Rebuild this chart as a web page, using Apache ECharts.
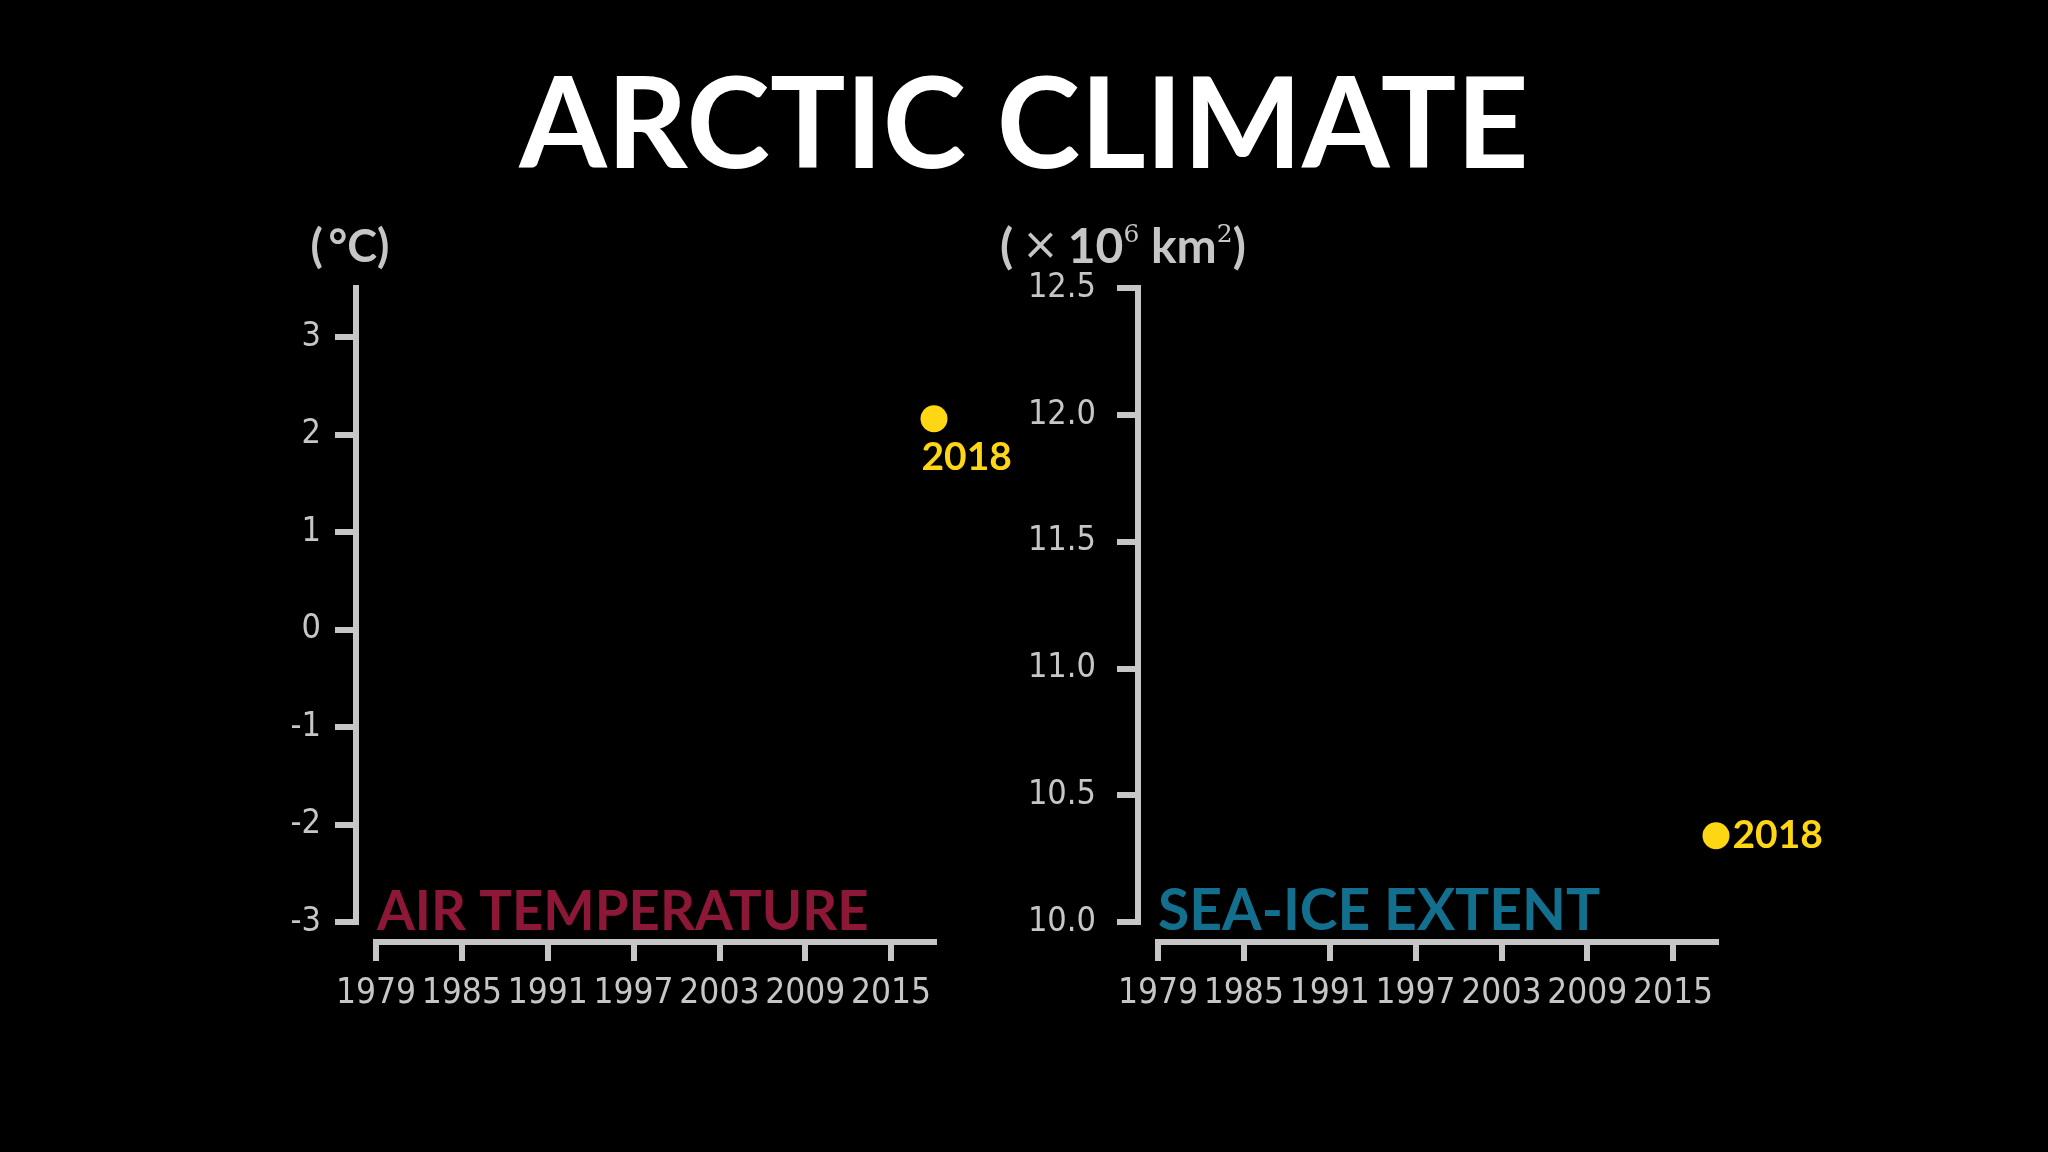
<!DOCTYPE html>
<html>
<head>
<meta charset="utf-8">
<script src="https://cdn.jsdelivr.net/npm/echarts@6/dist/echarts.min.js"></script>
<style>
html,body{margin:0;padding:0;background:#000;}
#chart{width:2048px;height:1152px;}
</style>
</head>
<body>
<div id="chart"></div>
<script>
// ---- data ----
const pointYears = [2018];
const airTemp = [2.16];          // °C anomaly
const seaIce = [10.34];          // x10^6 km^2
const yearTicks = [1979, 1985, 1991, 1997, 2003, 2009, 2015];
const tempTicks = [-3, -2, -1, 0, 1, 2, 3];
const iceTicks = [10.0, 10.5, 11.0, 11.5, 12.0, 12.5];
const yearRange = [1979, 2018];
const tempRange = [-3, 3.5];
const iceRange = [10, 12.5];

const GRAY = '#c6c6c6';
const YELLOW = '#ffd614';
const LABEL_FONT = '"Liberation Sans Narrow", "DejaVu Sans Condensed", Lato, sans-serif';
const BOLD_FONT = 'Lato, "Open Sans", sans-serif';

function xAxisCfg(gridIndex) {
  return {
    type: 'value', gridIndex: gridIndex,
    min: yearRange[0], max: yearRange[1],
    offset: 20,
    splitLine: {show: false},
    axisLine: {show: true, onZero: false, lineStyle: {color: GRAY, width: 6, cap: 'square'}},
    axisTick: {show: true, length: 19, customValues: yearTicks, lineStyle: {color: GRAY, width: 6}},
    axisLabel: {show: true, customValues: yearTicks, margin: 34, color: GRAY,
      fontFamily: LABEL_FONT, fontSize: 35, formatter: v => String(v)}
  };
}

function yAxisCfg(gridIndex, range, ticks, fmt, name, nameStyle, margin, nameGap) {
  return {
    type: 'value', gridIndex: gridIndex,
    min: range[0], max: range[1],
    offset: 20,
    splitLine: {show: false},
    axisLine: {show: true, onZero: false, lineStyle: {color: GRAY, width: 6, cap: 'square'}},
    axisTick: {show: true, length: 21, customValues: ticks, lineStyle: {color: GRAY, width: 6}},
    axisLabel: {show: true, customValues: ticks, margin: margin, color: GRAY,
      fontFamily: LABEL_FONT, fontSize: 34, padding: [6, 0, 0, 0], formatter: fmt},
    name: name,
    nameLocation: 'end',
    nameGap: nameGap,
    nameTextStyle: nameStyle
  };
}

const chart = echarts.init(document.getElementById('chart'), null, {renderer: 'canvas'});

chart.setOption({
  backgroundColor: '#000',
  animation: false,
  title: [
    {text: 'ARCTIC CLIMATE', left: 'center', top: 64, padding: 0,
      textStyle: {color: '#ffffff', fontFamily: BOLD_FONT, fontWeight: 'bold', fontSize: 126}},
    {text: 'AIR TEMPERATURE', left: 377, top: 885, padding: 0,
      textStyle: {color: '#8c1736', fontFamily: BOLD_FONT, fontWeight: 'bold', fontSize: 54.5}},
    {text: 'SEA-ICE EXTENT', left: 1158, top: 883, padding: 0,
      textStyle: {color: '#136f8e', fontFamily: BOLD_FONT, fontWeight: 'bold', fontSize: 57}}
  ],
  grid: [
    {left: 376, width: 558, top: 288, height: 634},
    {left: 1158, width: 558, top: 288, height: 634}
  ],
  xAxis: [xAxisCfg(0), xAxisCfg(1)],
  yAxis: [
    yAxisCfg(0, tempRange, tempTicks, v => String(v), '(\u2009°C)',
      {color: GRAY, fontFamily: BOLD_FONT, fontWeight: 'bold', fontSize: 45,
       align: 'center', verticalAlign: 'bottom', padding: [0, 12, 0, 0]}, 35, 18),
    yAxisCfg(1, iceRange, iceTicks, v => v.toFixed(1), '({x|\u2009×\u2009}10{s|6} km{s|2})',
      {color: GRAY, fontFamily: BOLD_FONT, fontWeight: 'bold', fontSize: 48,
       align: 'center', verticalAlign: 'bottom', padding: [0, 30, 0, 0],
       rich: {
         x: {color: GRAY, fontFamily: '"DejaVu Sans", sans-serif', fontWeight: 'normal', fontSize: 44},
         s: {color: GRAY, fontFamily: '"DejaVu Serif", "Liberation Serif", serif', fontWeight: 'normal', fontSize: 25, verticalAlign: 'top'}
       }}, 42, 14)
  ],
  series: [
    {
      type: 'scatter', xAxisIndex: 0, yAxisIndex: 0,
      data: pointYears.map((y, i) => [y, airTemp[i]]),
      symbol: 'circle', symbolSize: 27,
      itemStyle: {color: YELLOW, opacity: 1},
      label: {show: true, position: [1, 52], align: 'left', verticalAlign: 'middle',
        formatter: p => String(p.value[0]),
        color: YELLOW, fontFamily: BOLD_FONT, fontWeight: 'bold', fontSize: 39}
    },
    {
      type: 'scatter', xAxisIndex: 1, yAxisIndex: 1,
      data: pointYears.map((y, i) => [y, seaIce[i]]),
      symbol: 'circle', symbolSize: 27,
      itemStyle: {color: YELLOW, opacity: 1},
      label: {show: true, position: 'right', distance: 3,
        formatter: p => String(p.value[0]),
        color: YELLOW, fontFamily: BOLD_FONT, fontWeight: 'bold', fontSize: 39}
    }
  ]
});
</script>
</body>
</html>
